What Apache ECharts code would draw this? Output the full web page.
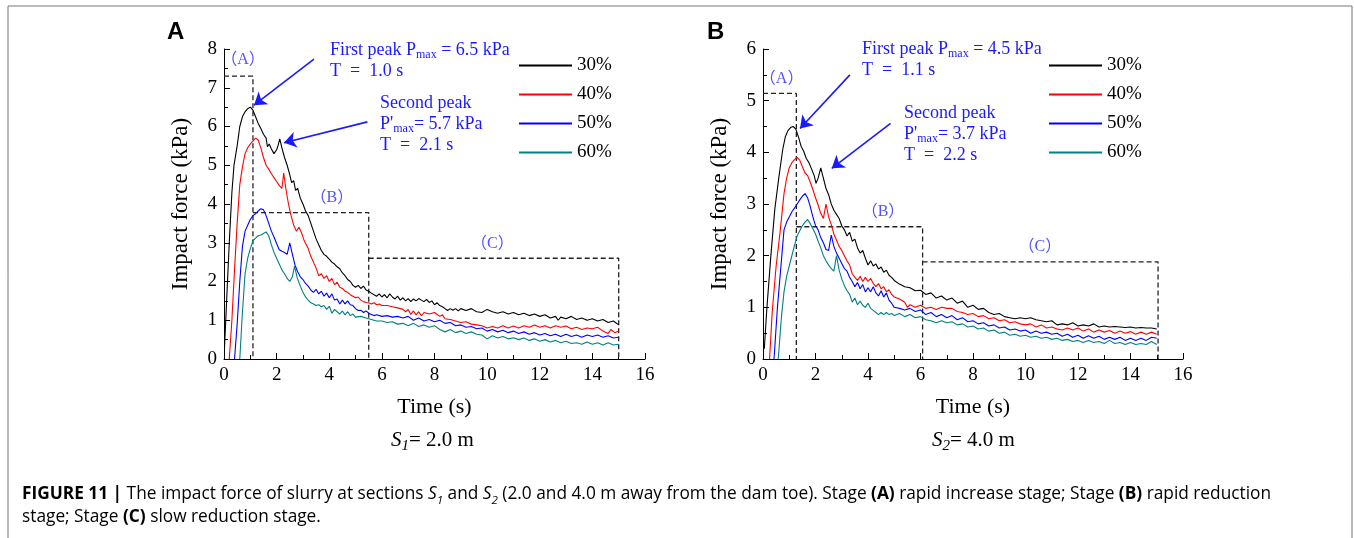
<!DOCTYPE html>
<html>
<head>
<meta charset="utf-8">
<script src="https://cdn.jsdelivr.net/npm/echarts@6/dist/echarts.min.js"></script>
<style>html,body{margin:0;padding:0;background:#fff}#c{width:1354px;height:538px}</style>
</head>
<body>
<div id="c"></div>
<script>
// ---------- DATA ----------
const seriesNames = ['30%', '40%', '50%', '60%'];
const xTicks = [0, 2, 4, 6, 8, 10, 12, 14, 16];

// Panel A (S1 = 2.0 m): [time s, impact force kPa]
const a30 = [[0.02,0.3],[0.1,1.5],[0.2,3.0],[0.3,4.3],[0.38,5.0],[0.5,5.5],[0.6,6.0],[0.7,6.25],[0.8,6.38],[0.9,6.46],[1.0,6.5],[1.1,6.42],[1.2,6.25],[1.3,6.08],[1.4,5.95],[1.5,5.8],[1.6,5.7],[1.65,5.48],[1.72,5.55],[1.8,5.42],[1.9,5.3],[2.0,5.4],[2.05,5.5],[2.12,5.68],[2.2,5.45],[2.3,5.2],[2.4,5.0],[2.5,4.75],[2.57,4.55],[2.65,4.6],[2.72,4.35],[2.8,4.4],[2.9,4.15],[3.0,4.0],[3.1,3.82],[3.2,3.7],[3.3,3.5],[3.4,3.3],[3.5,3.1],[3.6,2.95],[3.7,2.8],[3.8,2.7],[3.9,2.65],[4.0,2.58],[4.1,2.5],[4.2,2.45],[4.3,2.38],[4.4,2.33],[4.5,2.22],[4.6,2.15],[4.7,2.05],[4.8,2.0],[4.9,1.9],[5.0,1.85],[5.1,1.9],[5.2,1.82],[5.3,1.88],[5.4,1.78],[5.5,1.75],[5.6,1.7],[5.7,1.66],[5.8,1.62],[5.9,1.68],[6.0,1.6],[6.1,1.66],[6.2,1.58],[6.3,1.68],[6.4,1.6],[6.5,1.55],[6.6,1.62],[6.7,1.52],[6.8,1.58],[6.9,1.5],[7.0,1.56],[7.1,1.48],[7.2,1.55],[7.3,1.5],[7.4,1.56],[7.5,1.52],[7.6,1.48],[7.7,1.54],[7.8,1.46],[7.9,1.5],[8.0,1.4],[8.1,1.45],[8.2,1.38],[8.3,1.35],[8.4,1.3],[8.5,1.25],[8.6,1.3],[8.7,1.26],[8.8,1.3],[8.9,1.24],[9.0,1.3],[9.2,1.25],[9.4,1.3],[9.6,1.22],[9.8,1.2],[10.0,1.28],[10.2,1.22],[10.4,1.18],[10.6,1.22],[10.8,1.16],[11.0,1.2],[11.2,1.14],[11.4,1.18],[11.6,1.12],[11.8,1.16],[12.0,1.1],[12.2,1.14],[12.4,1.06],[12.6,1.1],[12.7,1.0],[12.8,1.08],[13.0,1.04],[13.2,1.1],[13.4,1.02],[13.6,1.06],[13.8,1.0],[14.0,1.04],[14.2,0.98],[14.4,1.02],[14.6,0.94],[14.8,0.98],[15.0,0.88]];
const a40 = [[0.2,0],[0.3,1.0],[0.4,2.3],[0.5,3.5],[0.6,4.5],[0.7,4.95],[0.8,5.3],[0.9,5.45],[1.0,5.55],[1.1,5.62],[1.2,5.7],[1.3,5.65],[1.4,5.45],[1.5,5.2],[1.6,5.0],[1.7,4.9],[1.8,4.78],[1.9,4.68],[2.0,4.58],[2.1,4.48],[2.2,4.4],[2.27,4.8],[2.35,4.4],[2.45,4.0],[2.55,3.7],[2.65,3.45],[2.75,3.3],[2.85,3.4],[2.95,3.25],[3.05,3.05],[3.12,3.1],[3.2,2.85],[3.3,2.65],[3.4,2.5],[3.5,2.35],[3.6,2.15],[3.7,2.2],[3.8,2.08],[3.9,2.15],[4.0,2.0],[4.1,2.08],[4.2,1.92],[4.3,1.98],[4.4,1.85],[4.5,1.82],[4.6,1.75],[4.7,1.72],[4.8,1.66],[4.9,1.62],[5.0,1.58],[5.1,1.6],[5.2,1.52],[5.3,1.48],[5.4,1.46],[5.5,1.45],[5.6,1.42],[5.7,1.45],[5.8,1.4],[5.9,1.42],[6.0,1.38],[6.2,1.38],[6.4,1.35],[6.6,1.32],[6.8,1.28],[6.9,1.22],[7.0,1.28],[7.1,1.15],[7.2,1.24],[7.3,1.14],[7.4,1.22],[7.5,1.12],[7.6,1.2],[7.8,1.16],[8.0,1.2],[8.2,1.1],[8.3,1.14],[8.4,1.04],[8.6,1.02],[8.8,0.98],[9.0,0.94],[9.2,0.96],[9.4,0.9],[9.6,0.88],[9.8,0.86],[10.0,0.8],[10.2,0.84],[10.4,0.8],[10.6,0.86],[10.8,0.8],[11.0,0.85],[11.2,0.8],[11.4,0.86],[11.6,0.82],[11.8,0.88],[12.0,0.82],[12.2,0.86],[12.4,0.8],[12.6,0.86],[12.8,0.82],[13.0,0.85],[13.2,0.78],[13.4,0.82],[13.6,0.76],[13.8,0.8],[14.0,0.78],[14.2,0.82],[14.4,0.72],[14.6,0.66],[14.7,0.76],[14.85,0.68],[15.0,0.72]];
const a50 = [[0.4,0],[0.5,0.9],[0.6,2.0],[0.7,2.9],[0.8,3.3],[0.9,3.45],[1.0,3.6],[1.1,3.7],[1.2,3.75],[1.3,3.82],[1.4,3.88],[1.5,3.85],[1.6,3.7],[1.7,3.5],[1.8,3.3],[1.9,3.15],[2.0,2.98],[2.1,2.82],[2.2,2.78],[2.3,2.75],[2.4,2.7],[2.5,3.0],[2.6,2.7],[2.7,2.42],[2.8,2.25],[2.9,2.12],[3.0,2.05],[3.1,1.95],[3.2,1.88],[3.3,1.78],[3.4,1.72],[3.5,1.8],[3.6,1.68],[3.7,1.75],[3.8,1.62],[3.9,1.7],[4.0,1.58],[4.1,1.68],[4.2,1.52],[4.3,1.55],[4.4,1.42],[4.5,1.52],[4.6,1.42],[4.7,1.5],[4.8,1.4],[4.9,1.38],[5.0,1.3],[5.1,1.25],[5.2,1.26],[5.3,1.2],[5.4,1.24],[5.5,1.18],[5.6,1.15],[5.7,1.12],[5.8,1.14],[6.0,1.1],[6.2,1.12],[6.4,1.08],[6.6,1.1],[6.8,1.06],[7.0,1.1],[7.2,1.0],[7.4,1.06],[7.6,0.98],[7.8,1.02],[8.0,0.96],[8.2,1.0],[8.4,0.92],[8.6,0.94],[8.8,0.86],[9.0,0.88],[9.2,0.82],[9.4,0.84],[9.6,0.78],[9.8,0.8],[10.0,0.72],[10.2,0.76],[10.4,0.7],[10.6,0.74],[10.8,0.68],[11.0,0.72],[11.2,0.66],[11.4,0.7],[11.6,0.64],[11.8,0.68],[12.0,0.62],[12.2,0.66],[12.4,0.6],[12.6,0.64],[12.8,0.58],[13.0,0.64],[13.2,0.58],[13.4,0.62],[13.6,0.56],[13.8,0.62],[14.0,0.58],[14.2,0.62],[14.4,0.56],[14.6,0.6],[14.8,0.54],[15.0,0.56]];
const a60 = [[0.6,0],[0.7,1.2],[0.8,2.2],[0.9,2.6],[1.0,2.85],[1.1,3.05],[1.2,3.12],[1.3,3.18],[1.4,3.2],[1.5,3.24],[1.6,3.28],[1.7,3.18],[1.8,2.95],[1.9,2.75],[2.0,2.6],[2.1,2.45],[2.2,2.3],[2.3,2.2],[2.4,2.08],[2.5,2.0],[2.6,2.12],[2.68,2.4],[2.78,2.1],[2.9,1.88],[3.0,1.72],[3.1,1.6],[3.2,1.52],[3.3,1.45],[3.4,1.42],[3.5,1.38],[3.6,1.4],[3.7,1.35],[3.8,1.38],[3.9,1.28],[4.0,1.36],[4.1,1.18],[4.2,1.28],[4.3,1.22],[4.4,1.16],[4.5,1.24],[4.6,1.14],[4.7,1.22],[4.8,1.12],[4.9,1.16],[5.0,1.08],[5.2,1.1],[5.4,1.06],[5.6,1.02],[5.8,0.98],[6.0,0.98],[6.2,0.94],[6.4,0.96],[6.6,0.9],[6.8,0.92],[7.0,0.86],[7.2,0.92],[7.4,0.84],[7.6,0.88],[7.8,0.82],[8.0,0.86],[8.2,0.76],[8.4,0.7],[8.6,0.76],[8.8,0.68],[9.0,0.72],[9.2,0.66],[9.4,0.7],[9.6,0.64],[9.8,0.62],[10.0,0.52],[10.2,0.6],[10.4,0.54],[10.6,0.58],[10.8,0.52],[11.0,0.55],[11.2,0.5],[11.4,0.54],[11.6,0.48],[11.8,0.52],[12.0,0.46],[12.2,0.5],[12.4,0.44],[12.6,0.48],[12.8,0.42],[13.0,0.46],[13.2,0.4],[13.4,0.42],[13.6,0.38],[13.8,0.44],[14.0,0.38],[14.2,0.42],[14.4,0.36],[14.6,0.42],[14.8,0.36],[15.0,0.38]];

// Panel B (S2 = 4.0 m)
const b30 = [[0.05,0.2],[0.15,1.0],[0.3,2.0],[0.45,2.9],[0.6,3.5],[0.75,4.05],[0.85,4.3],[0.95,4.42],[1.05,4.48],[1.15,4.5],[1.25,4.45],[1.35,4.3],[1.45,4.12],[1.55,4.02],[1.65,3.88],[1.75,3.8],[1.85,3.68],[1.95,3.55],[2.02,3.4],[2.1,3.5],[2.2,3.7],[2.3,3.5],[2.4,3.3],[2.5,3.18],[2.6,3.0],[2.7,2.88],[2.8,2.8],[2.9,2.72],[3.0,2.58],[3.1,2.5],[3.2,2.38],[3.3,2.45],[3.4,2.28],[3.5,2.32],[3.6,2.15],[3.7,2.05],[3.8,2.1],[3.9,1.95],[4.0,1.82],[4.1,1.9],[4.2,1.8],[4.3,1.84],[4.4,1.74],[4.5,1.78],[4.6,1.68],[4.7,1.72],[4.8,1.62],[4.9,1.58],[5.0,1.52],[5.2,1.45],[5.4,1.4],[5.6,1.38],[5.8,1.32],[6.0,1.33],[6.2,1.25],[6.4,1.28],[6.6,1.18],[6.8,1.22],[7.0,1.14],[7.2,1.18],[7.4,1.08],[7.6,1.12],[7.8,1.0],[8.0,1.04],[8.2,0.96],[8.4,0.98],[8.6,0.9],[8.8,0.86],[9.0,0.88],[9.2,0.82],[9.4,0.8],[9.6,0.78],[9.8,0.8],[10.0,0.78],[10.2,0.8],[10.4,0.76],[10.6,0.74],[10.8,0.72],[11.0,0.74],[11.2,0.66],[11.4,0.68],[11.6,0.66],[11.8,0.7],[12.0,0.64],[12.2,0.66],[12.4,0.64],[12.6,0.68],[12.8,0.62],[13.0,0.64],[13.2,0.62],[13.4,0.63],[13.6,0.62],[13.8,0.61],[14.0,0.62],[14.2,0.6],[14.4,0.61],[14.6,0.6],[14.8,0.6],[15.0,0.58]];
const b40 = [[0.25,0],[0.35,0.9],[0.5,1.8],[0.65,2.45],[0.8,3.2],[0.9,3.5],[1.0,3.7],[1.1,3.8],[1.2,3.86],[1.3,3.9],[1.4,3.85],[1.5,3.72],[1.6,3.6],[1.7,3.55],[1.8,3.42],[1.9,3.28],[2.0,3.12],[2.1,2.98],[2.2,2.82],[2.3,2.72],[2.4,3.0],[2.5,2.75],[2.6,2.6],[2.7,2.42],[2.8,2.3],[2.9,2.18],[3.0,2.1],[3.1,2.0],[3.2,1.9],[3.3,1.82],[3.4,1.65],[3.5,1.58],[3.6,1.52],[3.7,1.6],[3.8,1.5],[3.9,1.58],[4.0,1.5],[4.1,1.56],[4.2,1.46],[4.3,1.4],[4.4,1.46],[4.5,1.36],[4.6,1.4],[4.7,1.3],[4.8,1.34],[4.9,1.25],[5.0,1.2],[5.2,1.16],[5.4,1.1],[5.5,1.0],[5.6,1.05],[5.8,1.0],[6.0,1.04],[6.2,0.98],[6.4,1.0],[6.6,0.96],[6.8,1.0],[7.0,0.98],[7.2,0.98],[7.4,0.92],[7.6,0.9],[7.8,0.86],[8.0,0.88],[8.2,0.82],[8.4,0.84],[8.6,0.78],[8.8,0.8],[9.0,0.74],[9.2,0.76],[9.4,0.7],[9.6,0.72],[9.8,0.68],[10.0,0.66],[10.2,0.68],[10.4,0.62],[10.6,0.66],[10.8,0.6],[11.0,0.62],[11.2,0.58],[11.4,0.56],[11.6,0.6],[11.8,0.56],[12.0,0.6],[12.2,0.54],[12.4,0.58],[12.6,0.52],[12.8,0.56],[13.0,0.52],[13.2,0.55],[13.4,0.5],[13.6,0.54],[13.8,0.5],[14.0,0.53],[14.2,0.48],[14.4,0.52],[14.6,0.48],[14.8,0.52],[15.0,0.48]];
const b50 = [[0.42,0],[0.55,1.0],[0.7,1.9],[0.8,2.5],[0.9,2.65],[1.0,2.75],[1.1,2.85],[1.2,2.92],[1.3,3.0],[1.4,3.08],[1.5,3.15],[1.6,3.2],[1.7,3.12],[1.8,2.95],[1.9,2.75],[2.0,2.58],[2.1,2.5],[2.2,2.35],[2.3,2.25],[2.4,2.12],[2.5,2.1],[2.6,2.4],[2.7,2.18],[2.8,2.05],[2.9,1.95],[3.0,1.85],[3.1,1.75],[3.2,1.7],[3.3,1.58],[3.4,1.5],[3.5,1.4],[3.6,1.48],[3.7,1.36],[3.8,1.44],[3.9,1.3],[4.0,1.38],[4.1,1.3],[4.2,1.4],[4.3,1.28],[4.4,1.22],[4.5,1.32],[4.6,1.2],[4.7,1.28],[4.8,1.14],[4.9,1.08],[5.0,1.0],[5.2,0.98],[5.4,0.95],[5.6,0.98],[5.8,0.92],[6.0,0.95],[6.2,0.86],[6.4,0.9],[6.6,0.82],[6.8,0.86],[7.0,0.8],[7.2,0.84],[7.4,0.76],[7.6,0.8],[7.8,0.72],[8.0,0.74],[8.2,0.68],[8.4,0.7],[8.6,0.64],[8.8,0.66],[9.0,0.6],[9.2,0.62],[9.4,0.56],[9.6,0.58],[9.8,0.54],[10.0,0.56],[10.2,0.5],[10.4,0.54],[10.6,0.5],[10.8,0.52],[11.0,0.48],[11.2,0.5],[11.4,0.44],[11.6,0.48],[11.8,0.42],[12.0,0.46],[12.2,0.4],[12.4,0.45],[12.6,0.4],[12.8,0.44],[13.0,0.38],[13.2,0.42],[13.4,0.38],[13.6,0.42],[13.8,0.36],[14.0,0.4],[14.2,0.36],[14.4,0.4],[14.6,0.36],[14.8,0.42],[15.0,0.4]];
const b60 = [[0.58,0],[0.7,0.8],[0.8,1.3],[0.9,1.6],[1.0,1.8],[1.1,2.0],[1.2,2.2],[1.3,2.38],[1.4,2.48],[1.5,2.58],[1.6,2.65],[1.7,2.7],[1.8,2.62],[1.9,2.52],[2.0,2.42],[2.1,2.28],[2.2,2.15],[2.3,2.0],[2.4,1.9],[2.5,1.82],[2.6,1.75],[2.7,1.7],[2.8,2.0],[2.9,1.72],[3.0,1.55],[3.1,1.42],[3.2,1.32],[3.3,1.25],[3.4,1.1],[3.5,1.18],[3.6,1.05],[3.7,1.12],[3.8,1.04],[3.9,1.0],[4.0,1.08],[4.1,0.98],[4.2,0.94],[4.3,0.9],[4.4,0.86],[4.5,0.9],[4.6,0.86],[4.7,0.9],[4.8,0.86],[4.9,0.88],[5.0,0.84],[5.2,0.88],[5.4,0.82],[5.6,0.86],[5.8,0.8],[6.0,0.82],[6.2,0.76],[6.4,0.74],[6.6,0.7],[6.8,0.74],[7.0,0.7],[7.2,0.72],[7.4,0.66],[7.6,0.68],[7.8,0.62],[8.0,0.64],[8.2,0.58],[8.4,0.6],[8.6,0.54],[8.8,0.56],[9.0,0.5],[9.2,0.52],[9.4,0.46],[9.6,0.48],[9.8,0.44],[10.0,0.46],[10.2,0.42],[10.4,0.44],[10.6,0.4],[10.8,0.42],[11.0,0.38],[11.2,0.4],[11.4,0.36],[11.6,0.38],[11.8,0.34],[12.0,0.36],[12.2,0.32],[12.4,0.36],[12.6,0.32],[12.8,0.34],[13.0,0.3],[13.2,0.36],[13.4,0.3],[13.6,0.32],[13.8,0.28],[14.0,0.32],[14.2,0.28],[14.4,0.3],[14.6,0.28],[14.8,0.34],[15.0,0.28]];

// Stage boxes (A), (B), (C): [start time, end time, top force]
const stagesA = [[0, 1.1, 7.3], [1.1, 5.5, 3.78], [5.5, 15.0, 2.6]];
const stagesB = [[0, 1.27, 5.14], [1.27, 6.08, 2.56], [6.08, 15.05, 1.88]];
// Stage label anchors [time, force]
const stageNames = ['（A）', '（B）', '（C）'];
const stageLabelsA = [[0.72, 7.72], [4.1, 4.15], [10.2, 2.97]];
const stageLabelsB = [[0.71, 5.43], [4.57, 2.85], [10.55, 2.17]];
// Peak arrows: [from, to] in data coords
const arrowsA = [[[3.42, 7.74], [1.14, 6.55]], [[5.45, 6.12], [2.28, 5.58]]];
const arrowsB = [[[3.31, 5.5], [1.41, 4.46]], [[4.86, 4.56], [2.62, 3.69]]];

// ---------- CHART ----------
const colors = ['#000000', '#ff0000', '#0000ff', '#008080'];
const SERIF = '"Liberation Serif", "Times New Roman", serif';
const SANS = '"Open Sans", "Liberation Sans", Arial, sans-serif';
const ANN = '#1a1aff';
const chart = echarts.init(document.getElementById('c'), null, {renderer: 'canvas'});

function xAxisCfg(gi) {
  return {
    gridIndex: gi, type: 'value', min: 0, max: 16, interval: 2,
    name: 'Time (s)', nameLocation: 'middle', nameGap: 37,
    nameTextStyle: {fontFamily: SERIF, fontSize: 22, color: '#000'},
    axisLine: {lineStyle: {color: '#000', width: 1}},
    axisTick: {inside: true, length: 6, lineStyle: {color: '#000'}},
    minorTick: {show: true, splitNumber: 2, length: 4, lineStyle: {color: '#000'}},
    axisLabel: {fontFamily: SERIF, fontSize: 19, color: '#000', margin: 7},
    splitLine: {show: false}
  };
}
function yAxisCfg(gi, max) {
  return {
    gridIndex: gi, type: 'value', min: 0, max: max, interval: 1,
    name: 'Impact force (kPa)', nameLocation: 'middle', nameGap: 32,
    nameTextStyle: {fontFamily: SERIF, fontSize: 23, color: '#000'},
    axisLine: {show: true, lineStyle: {color: '#000', width: 1}},
    axisTick: {show: true, inside: true, length: 6, lineStyle: {color: '#000'}},
    minorTick: {show: true, splitNumber: 2, length: 4, lineStyle: {color: '#000'}},
    axisLabel: {fontFamily: SERIF, fontSize: 19, color: '#000', margin: 7},
    splitLine: {show: false}
  };
}

const dataA = [a30, a40, a50, a60];
const dataB = [b30, b40, b50, b60];
const series = [];
[dataA, dataB].forEach((set, gi) => {
  set.forEach((d, i) => {
    series.push({
      name: seriesNames[i], type: 'line', xAxisIndex: gi, yAxisIndex: gi,
      data: d, symbol: 'none', showSymbol: false, smooth: false,
      lineStyle: {color: colors[i], width: 1.1}, itemStyle: {color: colors[i]},
      z: 3
    });
  });
});
[stagesA, stagesB].forEach((st, gi) => {
  st.forEach(s => {
    series.push({
      type: 'line', xAxisIndex: gi, yAxisIndex: gi, symbol: 'none', silent: true,
      data: [[s[0], s[2]], [s[1], s[2]], [s[1], 0]],
      lineStyle: {color: '#222', width: 1.3, type: [5, 3]}, z: 2
    });
  });
});
[stageLabelsA, stageLabelsB].forEach((lb, gi) => {
  series.push({
    type: 'scatter', xAxisIndex: gi, yAxisIndex: gi, symbolSize: 0, silent: true,
    data: lb.map((p, k) => ({value: p, name: stageNames[k]})),
    label: {show: true, position: 'inside', formatter: '{b}', color: '#2626ff',
            fontFamily: SERIF + ', "Noto Sans CJK SC"', fontSize: 16}
  });
});
[arrowsA, arrowsB].forEach((ar, gi) => {
  series.push({
    type: 'lines', coordinateSystem: 'cartesian2d', xAxisIndex: gi, yAxisIndex: gi,
    silent: true, symbol: ['none', 'arrow'], symbolSize: [8, 12],
    lineStyle: {color: ANN, width: 1.6, opacity: 1},
    data: ar.map(c => ({coords: c})), z: 4
  });
});

function legendCfg(left) {
  return {
    data: seriesNames, orient: 'vertical', left: left, top: 51,
    itemWidth: 53, itemHeight: 14, itemGap: 10,
    itemStyle: {opacity: 0},
    textStyle: {fontFamily: SERIF, fontSize: 19, color: '#000'},
    selectedMode: false
  };
}

const rich = {
  n: {fontFamily: SERIF, fontSize: 18, color: ANN, lineHeight: 22},
  s: {fontFamily: SERIF, fontSize: 12, color: ANN, lineHeight: 22, verticalAlign: 'bottom'}
};
function ann(x, y, text) {
  return {type: 'text', left: x, top: y, style: {text: text, rich: rich, fill: ANN, font: '18px ' + SERIF}};
}
const CF = 17.3;
const capRich = {
  r: {fontFamily: SANS, fontSize: CF, color: '#333'},
  b: {fontFamily: SANS, fontSize: CF, color: '#111', fontWeight: 'bold'},
  i: {fontFamily: SANS, fontSize: CF, color: '#333', fontStyle: 'italic'},
  sub: {fontFamily: SANS, fontSize: 11.5, color: '#333', fontStyle: 'italic', verticalAlign: 'bottom', lineHeight: 25}
};
const sRich = {
  r: {fontFamily: SERIF, fontSize: 21, color: '#000', lineHeight: 26},
  i: {fontFamily: SERIF, fontSize: 21, color: '#000', fontStyle: 'italic', lineHeight: 26},
  sub: {fontFamily: SERIF, fontSize: 15, color: '#000', fontStyle: 'italic', lineHeight: 26, verticalAlign: 'bottom'}
};

const option = {
  animation: false,
  backgroundColor: '#fff',
  grid: [
    {left: 224, right: 709, top: 49, bottom: 179, containLabel: false},
    {left: 763, right: 171, top: 49, bottom: 179, containLabel: false}
  ],
  xAxis: [xAxisCfg(0), xAxisCfg(1)],
  yAxis: [yAxisCfg(0, 8), yAxisCfg(1, 6)],
  legend: [legendCfg(513), legendCfg(1043)],
  series: series,
  graphic: [
    {type: 'rect', shape: {x: 8, y: 6, width: 1344, height: 600}, style: {fill: 'none', stroke: '#777', lineWidth: 1}, silent: true},
    {type: 'text', left: 167, top: 20, style: {text: 'A', font: 'bold 24px "Liberation Sans", Arial, sans-serif', fill: '#000'}},
    {type: 'text', left: 707, top: 20, style: {text: 'B', font: 'bold 24px "Liberation Sans", Arial, sans-serif', fill: '#000'}},
    ann(330, 41, '{n|First peak P}{s|max}{n| = 6.5 kPa}'),
    ann(330, 62, '{n|T  =  1.0 s}'),
    ann(380, 94, '{n|Second peak}'),
    ann(380, 115, "{n|P'}{s|max}{n|= 5.7 kPa}"),
    ann(380, 136, '{n|T  =  2.1 s}'),
    ann(862, 40, '{n|First peak P}{s|max}{n| = 4.5 kPa}'),
    ann(862, 61, '{n|T  =  1.1 s}'),
    ann(904, 104, '{n|Second peak}'),
    ann(904, 125, "{n|P'}{s|max}{n|= 3.7 kPa}"),
    ann(904, 146, '{n|T  =  2.2 s}'),
    {type: 'text', top: 430, left: 391, style: {text: '{i|S}{sub|1}{r|= 2.0 m}', rich: sRich}},
    {type: 'text', top: 430, left: 932, style: {text: '{i|S}{sub|2}{r|= 4.0 m}', rich: sRich}},
    {type: 'text', left: 22, top: 486, style: {text: '{b|FIGURE 11 |}{r| The impact force of slurry at sections }{i|S}{sub|1}{r| and }{i|S}{sub|2}{r| (2.0 and 4.0 m away from the dam toe). Stage }{b|(A)}{r| rapid increase stage; Stage }{b|(B)}{r| rapid reduction}', rich: capRich}},
    {type: 'text', left: 22, top: 509, style: {text: '{r|stage; Stage }{b|(C)}{r| slow reduction stage.}', rich: capRich}}
  ]
};
chart.setOption(option);
</script>
</body>
</html>
